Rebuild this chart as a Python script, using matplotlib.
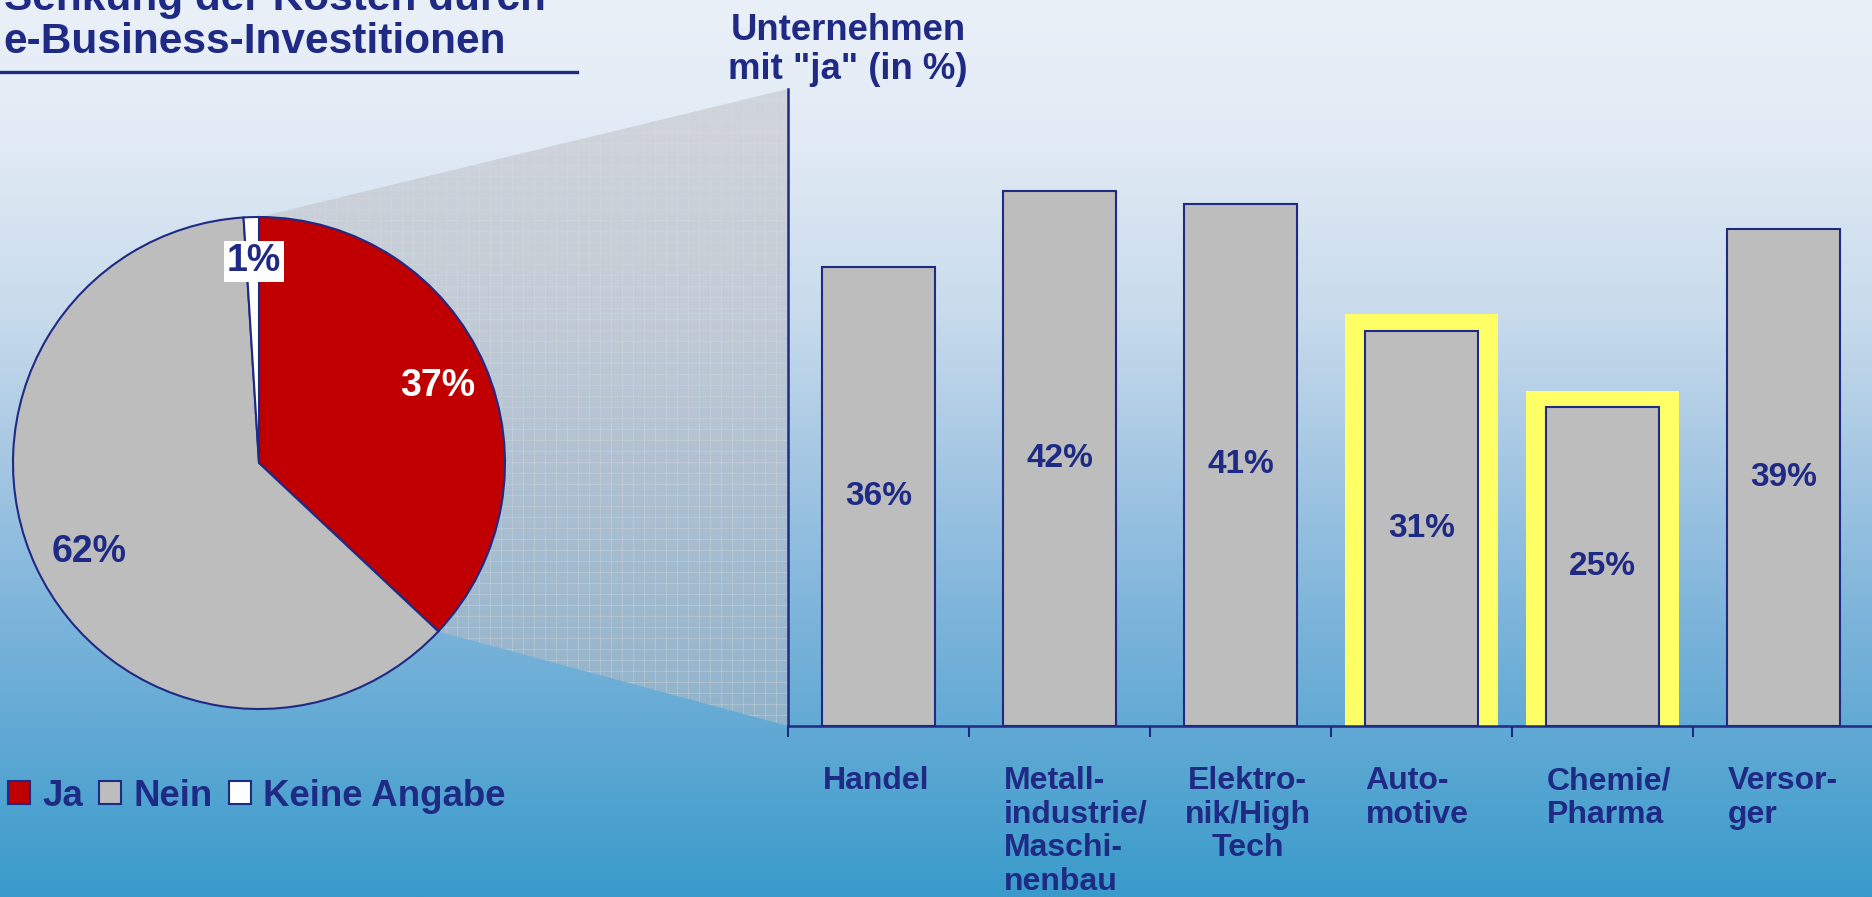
import numpy as np
import matplotlib
matplotlib.use("Agg")
from matplotlib import pyplot as plt
from matplotlib.colors import LinearSegmentedColormap
from matplotlib.patches import Polygon, Patch

plt.rcParams['font.family'] = ['Liberation Sans', 'DejaVu Sans']
plt.rcParams['font.weight'] = 'bold'

# pie: e-Business Kostensenkung
pie_labels = ['Ja', 'Nein', 'Keine Angabe']
pie_values = [37, 62, 1]

# branchen mit "ja"
branchen = ['Handel', 'Metall-\nindustrie/\nMaschi-\nnenbau', 'Elektro-\nnik/High\nTech',
            'Auto-\nmotive', 'Chemie/\nPharma', 'Versor-\nger']
ja_werte = [36, 42, 41, 31, 25, 39]
hervorgehoben = [False, False, False, True, True, False]

navy = '#1f2a85'
rot = '#c00000'
grau = '#bdbdbd'
gelb = '#ffff66'

W, H = 1872, 897
fig = plt.figure(figsize=(W / 100, H / 100), dpi=100)

# hintergrund verlauf
bg = fig.add_axes([0, 0, 1, 1], zorder=-10)
cmap = LinearSegmentedColormap.from_list('bg', [
    (0.0, '#eaf0f8'), (0.15, '#e2ebf5'), (0.35, '#c8dbec'),
    (0.5, '#a8c9e4'), (0.7, '#7ab3da'), (1.0, '#3a9bcb')])
grad = np.linspace(0, 1, 400).reshape(-1, 1)
bg.imshow(grad, aspect='auto', cmap=cmap, extent=[0, 1, 0, 1])
bg.set_xlim(0, 1)
bg.set_ylim(0, 1)
bg.axis('off')

# pie
cx, cy, r = 259, H - 463, 246
lim = 1.02
size = 2 * r * lim
ax_pie = fig.add_axes([(cx - size / 2) / W, (cy - size / 2) / H, size / W, size / H], zorder=2)
wedges, texts, autotexts = ax_pie.pie(
    pie_values, colors=[rot, grau, 'white'], startangle=90, counterclock=False,
    autopct='%.0f%%', pctdistance=0.79,
    wedgeprops=dict(edgecolor=navy, linewidth=1.5),
    textprops=dict(fontsize=27, fontweight='bold', color=navy))
ax_pie.set_xlim(-lim, lim)
ax_pie.set_ylim(-lim, lim)
ax_pie.set_aspect('equal')
ax_pie.axis('off')
autotexts[0].set_color('white')
autotexts[1].set_position((-0.69, -0.36))
autotexts[2].set_position((-0.02, 0.82))
autotexts[2].set_bbox(dict(facecolor='white', edgecolor='none', pad=2))

# balken
ax = fig.add_axes([788 / W, 171 / H, 1086 / W, 637 / H], zorder=3)
ax.patch.set_alpha(0)
x = np.arange(len(ja_werte))
bw = 0.62
for i, (v, h) in enumerate(zip(ja_werte, hervorgehoben)):
    if h:
        ax.bar(i, v + 1.3, width=0.845, color=gelb, edgecolor='none', zorder=1)
ax.bar(x, ja_werte, width=bw, color=grau, edgecolor=navy, linewidth=1.5, zorder=2)
for i, v in enumerate(ja_werte):
    ax.text(i, v / 2, f'{v}%', ha='center', va='center', fontsize=24,
            fontweight='bold', color=navy, zorder=4)
ax.set_xlim(-0.5, 5.5)
ax.set_ylim(0, 50)
ax.set_xticks(np.arange(-0.5, 6, 1))
ax.set_xticklabels([])
ax.set_yticks([])
ax.tick_params(axis='x', direction='out', length=8, width=1.5, color=navy)
for s in ['top', 'right']:
    ax.spines[s].set_visible(False)
for s in ['left', 'bottom']:
    ax.spines[s].set_color(navy)
    ax.spines[s].set_linewidth(1.8)
for i, lab in enumerate(branchen):
    ax.text(i - bw / 2, -0.063, lab, transform=ax.get_xaxis_transform(),
            ha='left', va='top', fontsize=23, fontweight='bold', color=navy,
            linespacing=1.16, multialignment='center' if i == 2 else 'left')

# verbindung pie -> achse
fig.canvas.draw()
to_fig = fig.transFigure.inverted()
ende = np.radians(90 - 360 * pie_values[0] / sum(pie_values))
p_top = to_fig.transform(ax_pie.transData.transform((0, 1)))
p_end = to_fig.transform(ax_pie.transData.transform((np.cos(ende), np.sin(ende))))
p_ctr = to_fig.transform(ax_pie.transData.transform((0, 0)))
a_top = to_fig.transform(ax.transAxes.transform((0, 1)))
a_bot = to_fig.transform(ax.transAxes.transform((0, 0)))
pts = np.array([p_ctr, p_top, a_top, a_bot, p_end])
poly = Polygon(pts, closed=True, transform=fig.transFigure,
               facecolor=(0.74, 0.74, 0.76, 0.5), edgecolor='none', zorder=1)
bg.add_patch(poly)

# feines gitter in der verbindung
step = 11
for gx in np.arange(pts[:, 0].min() * W, pts[:, 0].max() * W, step):
    ln, = bg.plot([gx / W, gx / W], [0, 1], color='#dcdcdc', alpha=0.32,
                  linewidth=0.8, transform=fig.transFigure, zorder=1.1)
    ln.set_clip_path(poly)
for gy in np.arange(pts[:, 1].min() * H, pts[:, 1].max() * H, step):
    ln, = bg.plot([0, 1], [gy / H, gy / H], color='#dcdcdc', alpha=0.32,
                  linewidth=0.8, transform=fig.transFigure, zorder=1.1)
    ln.set_clip_path(poly)

# titel
fig.text(0.002, 1 + 1 / H, 'Senkung der Kosten durch', ha='left', va='center',
         fontsize=30.5, fontweight='bold', color=navy)
fig.text(0.002, 1 - 42 / H, 'e-Business-Investitionen', ha='left', va='center',
         fontsize=30.5, fontweight='bold', color=navy)
bg.plot([0, 577 / W], [1 - 72 / H, 1 - 72 / H], color=navy, linewidth=2.4)
fig.text(848 / W, 1 - 50 / H, 'Unternehmen\nmit "ja" (in %)', ha='center', va='center',
         fontsize=26.3, fontweight='bold', color=navy, linespacing=1.12)

# legende
handles = [Patch(facecolor=c, edgecolor=navy, linewidth=1.5) for c in [rot, grau, 'white']]
fig.legend(handles, pie_labels, loc='center left', bbox_to_anchor=(8 / W, 101 / H),
           ncol=3, frameon=False, handlelength=0.6, handleheight=0.6,
           handletextpad=0.33, columnspacing=0.45, borderpad=0, borderaxespad=0,
           labelcolor=navy, prop=dict(weight='bold', size=26.4))

fig.savefig('out.png', dpi=100)
